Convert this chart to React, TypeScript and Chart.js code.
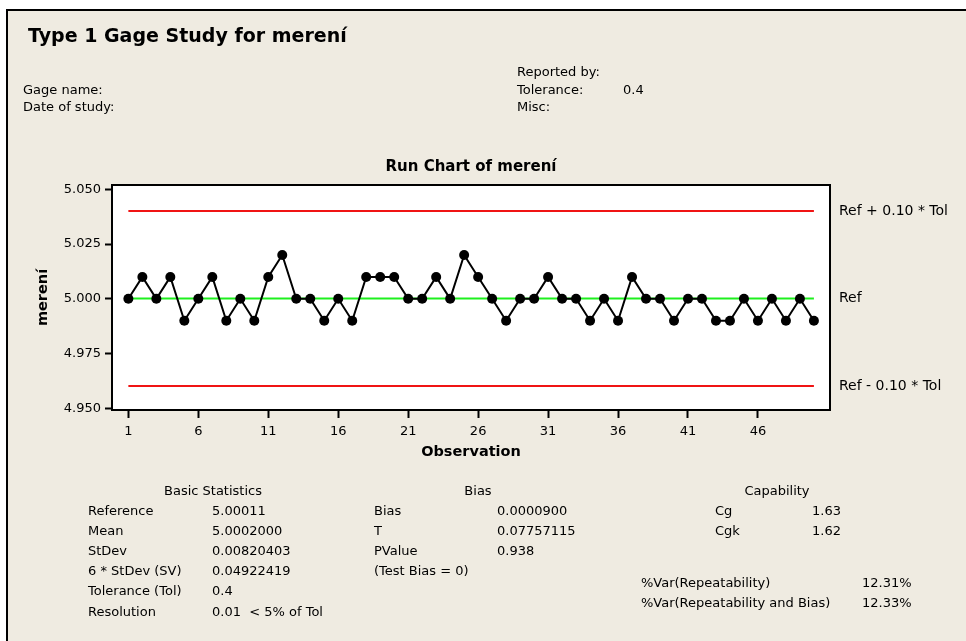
import React, { useEffect, useRef } from "react";
import { Chart, registerables } from "chart.js";

Chart.register(...registerables);

// ---------- data ----------
const observationValues = [
  5.0, 5.01, 5.0, 5.01, 4.99, 5.0, 5.01, 4.99, 5.0, 4.99,
  5.01, 5.02, 5.0, 5.0, 4.99, 5.0, 4.99, 5.01, 5.01, 5.01,
  5.0, 5.0, 5.01, 5.0, 5.02, 5.01, 5.0, 4.99, 5.0, 5.0,
  5.01, 5.0, 5.0, 4.99, 5.0, 4.99, 5.01, 5.0, 5.0, 4.99,
  5.0, 5.0, 4.99, 4.99, 5.0, 4.99, 5.0, 4.99, 5.0, 4.99,
];
const xTickValues = [1, 6, 11, 16, 21, 26, 31, 36, 41, 46];
const yTickValues = [4.95, 4.975, 5.0, 5.025, 5.05];
const referenceValue = 5.00011;
const tolerance = 0.4;
const limitFraction = 0.1;
const refLineLabels = ["Ref + 0.10 * Tol", "Ref", "Ref - 0.10 * Tol"];

const basicStatsLabels = ["Reference", "Mean", "StDev", "6 * StDev (SV)", "Tolerance (Tol)", "Resolution"];
const basicStatsValues = ["5.00011", "5.0002000", "0.00820403", "0.04922419", "0.4", "0.01  < 5% of Tol"];
const biasLabels = ["Bias", "T", "PValue", "(Test Bias = 0)"];
const biasValues = ["0.0000900", "0.07757115", "0.938", ""];
const capabilityLabels = ["Cg", "Cgk"];
const capabilityValues = ["1.63", "1.62"];
const varLabels = ["%Var(Repeatability)", "%Var(Repeatability and Bias)"];
const varValues = ["12.31%", "12.33%"];

const FONT = "'DejaVu Sans', Verdana, sans-serif";
const BG = "#EFEBE1";

const framePlugin = {
  id: "framePlugin",
  beforeDraw(chart: any) {
    const { ctx, chartArea } = chart;
    ctx.save();
    ctx.fillStyle = "#ffffff";
    ctx.fillRect(chartArea.left, chartArea.top, chartArea.right - chartArea.left, chartArea.bottom - chartArea.top);
    ctx.restore();
  },
  afterDraw(chart: any) {
    const { ctx, chartArea } = chart;
    ctx.save();
    ctx.strokeStyle = "#000";
    ctx.lineWidth = 2;
    ctx.strokeRect(chartArea.left, chartArea.top, chartArea.right - chartArea.left, chartArea.bottom - chartArea.top);
    const yScale = chart.scales.y;
    const levels = [
      referenceValue + limitFraction * tolerance,
      referenceValue,
      referenceValue - limitFraction * tolerance,
    ];
    ctx.fillStyle = "#000";
    ctx.font = `14px ${FONT}`;
    ctx.textAlign = "left";
    ctx.textBaseline = "middle";
    levels.forEach((v, i) => {
      ctx.fillText(refLineLabels[i], chartArea.right + 9, yScale.getPixelForValue(v));
    });
    ctx.restore();
  },
};

function RunChart() {
  const ref = useRef<HTMLCanvasElement | null>(null);
  useEffect(() => {
    if (!ref.current) return;
    const pts = observationValues.map((v, i) => ({ x: i + 1, y: v }));
    const first = 1;
    const last = observationValues.length;
    const upper = referenceValue + limitFraction * tolerance;
    const lower = referenceValue - limitFraction * tolerance;
    const chart = new Chart(ref.current, {
      type: "line",
      data: {
        datasets: [
          {
            label: "merení",
            data: pts,
            borderColor: "#000",
            backgroundColor: "#000",
            borderWidth: 2,
            pointRadius: 5,
            pointBackgroundColor: "#000",
            pointBorderWidth: 0,
            tension: 0,
            order: 0,
          },
          {
            label: "Ref",
            data: [{ x: first, y: referenceValue }, { x: last, y: referenceValue }],
            borderColor: "#1EF01E",
            borderWidth: 2,
            pointRadius: 0,
            order: 1,
          },
          {
            label: "Upper",
            data: [{ x: first, y: upper }, { x: last, y: upper }],
            borderColor: "#F01414",
            borderWidth: 2,
            pointRadius: 0,
            order: 1,
          },
          {
            label: "Lower",
            data: [{ x: first, y: lower }, { x: last, y: lower }],
            borderColor: "#F01414",
            borderWidth: 2,
            pointRadius: 0,
            order: 1,
          },
        ],
      },
      options: {
        animation: false,
        responsive: false,
        events: [],
        layout: { padding: { left: 0, right: 136, top: 158, bottom: 171 } },
        plugins: {
          legend: { display: false },
          tooltip: { enabled: false },
          title: {
            display: true,
            text: "Run Chart of merení",
            fullSize: false,
            color: "#000",
            font: { family: FONT, size: 15, weight: "bold" },
            padding: { top: 0, bottom: 9 },
          },
        },
        scales: {
          x: {
            type: "linear",
            min: -0.17,
            max: 51.15,
            afterFit(scale: any) {
              scale.height = 60;
            },
            afterBuildTicks(scale: any) {
              scale.ticks = xTickValues.map((v) => ({ value: v }));
            },
            ticks: {
              color: "#000",
              font: { family: FONT, size: 13 },
              padding: 6,
              maxRotation: 0,
              autoSkip: false,
              callback: (v: any) => String(v),
            },
            grid: { display: true, drawOnChartArea: false, drawTicks: true, tickLength: 8, tickColor: "#000", tickWidth: 2 },
            border: { display: true, color: "#000", width: 2 },
            title: {
              display: true,
              text: "Observation",
              color: "#000",
              font: { family: FONT, size: 14.5, weight: "bold" },
              padding: { top: 0, bottom: 9.3 },
            },
          },
          y: {
            type: "linear",
            min: 4.9492,
            max: 5.052,
            afterFit(scale: any) {
              scale.width = 112;
            },
            afterBuildTicks(scale: any) {
              scale.ticks = yTickValues.map((v) => ({ value: v }));
            },
            ticks: {
              color: "#000",
              font: { family: FONT, size: 13 },
              padding: 4,
              callback: (v: any) => Number(v).toFixed(3),
            },
            grid: { display: true, drawOnChartArea: false, drawTicks: true, tickLength: 7, tickColor: "#000", tickWidth: 2 },
            border: { display: true, color: "#000", width: 2 },
            title: {
              display: true,
              text: "merení",
              color: "#000",
              font: { family: FONT, size: 14.5, weight: "bold" },
              padding: { top: 35, bottom: 0 },
            },
          },
        },
      },
      plugins: [framePlugin],
    } as any);
    return () => chart.destroy();
  }, []);
  return (
    <canvas
      ref={ref}
      width={966}
      height={641}
      style={{ position: "absolute", left: 0, top: 0, width: 966, height: 641, display: "block" }}
    />
  );
}

const txt = (left: number, centerY: number, text: string, extra: React.CSSProperties = {}) => (
  <div
    key={`${left}-${centerY}-${text}`}
    style={{
      position: "absolute",
      left,
      top: centerY - 8,
      lineHeight: "16px",
      fontSize: 13,
      fontFamily: FONT,
      color: "#000",
      whiteSpace: "pre",
      ...extra,
    }}
  >
    {text}
  </div>
);

const centered = (cx: number, centerY: number, text: string) => (
  <div
    key={`c-${cx}-${text}`}
    style={{
      position: "absolute",
      left: cx - 150,
      width: 300,
      textAlign: "center",
      top: centerY - 8,
      lineHeight: "16px",
      fontSize: 13,
      fontFamily: FONT,
      color: "#000",
      whiteSpace: "pre",
    }}
  >
    {text}
  </div>
);

export default function App() {
  const rowY = (i: number) => 511 + i * 20.1;
  return (
    <div style={{ position: "fixed", left: 0, top: 0, width: 966, height: 641, background: "#fff", overflow: "hidden" }}>
      <div
        style={{
          position: "absolute",
          left: 6,
          top: 9,
          width: 980,
          height: 660,
          background: BG,
          borderLeft: "2px solid #000",
          borderTop: "2px solid #000",
        }}
      />
      <RunChart />
      <div
        style={{
          position: "absolute",
          left: 28,
          top: 23,
          lineHeight: "24px",
          fontSize: 19,
          fontWeight: "bold",
          fontFamily: FONT,
          color: "#000",
          whiteSpace: "pre",
        }}
      >
        Type 1 Gage Study for merení
      </div>
      {txt(23, 90, "Gage name:")}
      {txt(23, 107, "Date of study:")}
      {txt(517, 72, "Reported by:")}
      {txt(517, 90, "Tolerance:")}
      {txt(623, 90, "0.4")}
      {txt(517, 107, "Misc:")}

      {centered(213, 491, "Basic Statistics")}
      {basicStatsLabels.map((l, i) => txt(88, rowY(i), l))}
      {basicStatsValues.map((v, i) => txt(212, rowY(i), v))}

      {centered(478, 491, "Bias")}
      {biasLabels.map((l, i) => txt(374, rowY(i), l))}
      {biasValues.map((v, i) => (v ? txt(497, rowY(i), v) : null))}

      {centered(777, 491, "Capability")}
      {capabilityLabels.map((l, i) => txt(715, rowY(i), l))}
      {capabilityValues.map((v, i) => txt(812, rowY(i), v))}

      {varLabels.map((l, i) => txt(641, 583 + i * 19.5, l))}
      {varValues.map((v, i) => txt(862, 583 + i * 19.5, v))}
    </div>
  );
}
